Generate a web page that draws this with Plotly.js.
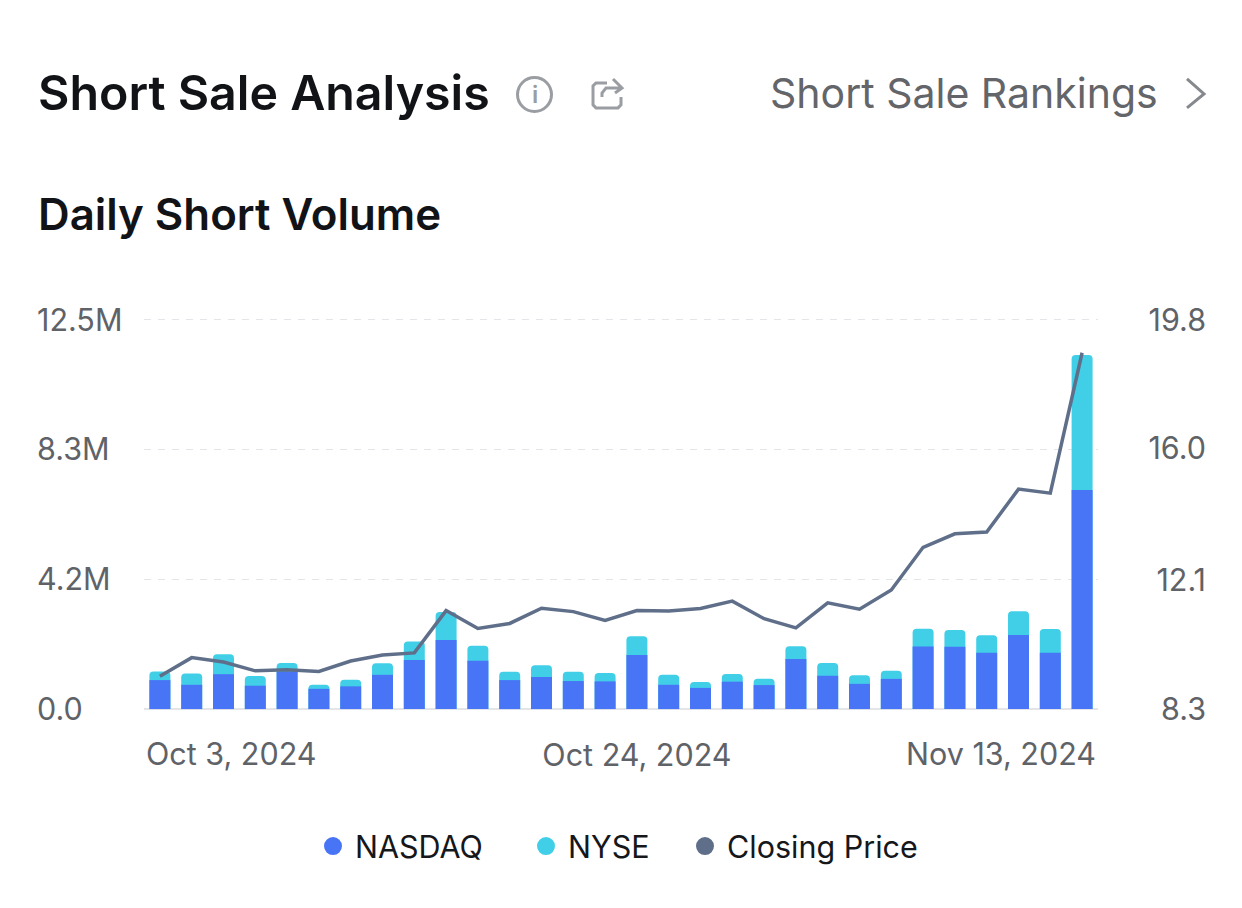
<!DOCTYPE html>
<html>
<head>
<meta charset="utf-8">
<script src="https://cdn.plot.ly/plotly-3.0.1.min.js"></script>
<style>html,body{margin:0;padding:0;background:#fff}#chart{width:1242px;height:908px}</style>
</head>
<body>
<div id="chart"></div>
<script>
const dates = ["Oct 3, 2024","Oct 4, 2024","Oct 7, 2024","Oct 8, 2024","Oct 9, 2024","Oct 10, 2024","Oct 11, 2024","Oct 14, 2024","Oct 15, 2024","Oct 16, 2024","Oct 17, 2024","Oct 18, 2024","Oct 21, 2024","Oct 22, 2024","Oct 23, 2024","Oct 24, 2024","Oct 25, 2024","Oct 28, 2024","Oct 29, 2024","Oct 30, 2024","Oct 31, 2024","Nov 1, 2024","Nov 4, 2024","Nov 5, 2024","Nov 6, 2024","Nov 7, 2024","Nov 8, 2024","Nov 11, 2024","Nov 12, 2024","Nov 13, 2024"];
const nasdaq = [0.93,0.78,1.12,0.75,1.21,0.65,0.73,1.10,1.58,2.22,1.55,0.93,1.03,0.90,0.89,1.74,0.78,0.68,0.88,0.77,1.61,1.07,0.81,0.97,2.01,2.00,1.81,2.38,1.81,7.04];
const nyse = [0.28,0.36,0.64,0.31,0.27,0.13,0.21,0.37,0.59,0.90,0.48,0.27,0.38,0.30,0.27,0.60,0.32,0.19,0.25,0.20,0.41,0.41,0.28,0.26,0.57,0.54,0.56,0.76,0.76,4.33];
const closingPrice = [9.27,9.82,9.69,9.43,9.46,9.41,9.72,9.90,9.96,11.21,10.68,10.83,11.28,11.18,10.92,11.21,11.20,11.27,11.49,10.97,10.70,11.44,11.25,11.82,13.08,13.48,13.53,14.80,14.68,18.83];
const volumeTicks = [0,4.17,8.33,12.5];
const volumeLabels = ["0.0","4.2M","8.3M","12.5M"];
const priceTicks = [8.3,12.1,16.0,19.8];
const priceLabels = ["8.3","12.1","16.0","19.8"];
const xTicks = ["Oct 24, 2024"];

const FONT = 'Inter, "Noto Sans", sans-serif';
const BLUE = '#4874f6', CYAN = '#41cfe8', SLATE = '#5f6f8a';
const GRID = '#e3e5e8', TICKTXT = '#5f6368';
// Plot box padded 25px above and below so the end tick labels stay visible.
const L = 144, R = 1098, T = 294.5, B = 734.5;
const px = x => (x - L) / (R - L);
const py = y => (B - y) / (B - T);

const stackedTop = nasdaq.map((v, i) => v + nyse[i]);
const dummy = (name, color, legend) => ({
  type: 'scatter', mode: 'markers', name, x: [dates[0]], y: [null], legend,
  marker: {color, size: 16, symbol: 'circle', line:{color, width:2}}, showlegend: true, hoverinfo: 'skip'
});

const traces = [
  {type:'bar', name:'NYSE', x:dates, y:stackedTop, marker:{color:CYAN, cornerradius:4}, width:0.66, showlegend:false, customdata:nyse, hovertemplate:'%{x}<br>NYSE %{customdata}M<extra></extra>'},
  {type:'bar', name:'NASDAQ', x:dates, y:nasdaq, marker:{color:BLUE, cornerradius:4}, width:0.66, showlegend:false},
  {type:'scatter', mode:'lines', name:'Closing Price', x:dates, y:closingPrice, yaxis:'y2', line:{color:SLATE, width:3.5, shape:'linear'}, showlegend:false},
  dummy('NASDAQ', BLUE, 'legend'), dummy('NYSE', CYAN, 'legend2'), dummy('Closing Price', SLATE, 'legend3')
];

const note = (text, x, y, size, color, weight, anchor) => ({
  text, xref:'paper', yref:'paper', x:px(x), y:py(y), xanchor:anchor||'left', yanchor:'middle',
  showarrow:false, borderpad:0, font:{family:FONT, size, color, weight:weight||400}
});
const legendAt = x => ({orientation:'h', x:px(x), xanchor:'left', y:py(847), yanchor:'middle', font:{family:FONT, size:30.5, color:'#15171a'}, itemwidth:34, itemclick:false, bgcolor:'rgba(0,0,0,0)'});

const iconLine = {color:'#9a9ea3', width:3};
const pathOf = pts => pts.map(c => c[0] + px(c[1]) + ',' + py(c[2])).join(' ');
const pshape = (pts, line) => ({type:'path', xref:'paper', yref:'paper', path:pathOf(pts), line, fillcolor:'rgba(0,0,0,0)'});
const tickFont = {family:FONT, size:30.5, color:TICKTXT};

const layout = {
  width:1242, height:908, paper_bgcolor:'#fff', plot_bgcolor:'#fff',
  margin:{l:L, r:1242-R, t:T, b:908-B, pad:0},
  barmode:'overlay', font:{family:FONT, color:TICKTXT},
  xaxis:{type:'category', range:[-0.5,29.5], tickmode:'array', tickvals:xTicks, ticktext:xTicks, ticks:'', showgrid:false, zeroline:false, showline:false, tickfont:tickFont, ticklabelstandoff:0, automargin:false},
  yaxis:{range:[-0.801,13.301], tickmode:'array', tickvals:volumeTicks, ticktext:volumeLabels, showgrid:true, gridcolor:GRID, griddash:'7px,7px', gridwidth:1.3, zeroline:true, zerolinecolor:GRID, zerolinewidth:1.5, ticks:'', tickfont:tickFont, ticklabelposition:'inside', ticklabelstandoff:-110, automargin:false},
  yaxis2:{overlaying:'y', side:'right', range:[7.563,20.537], tickmode:'array', tickvals:priceTicks, ticktext:priceLabels, showgrid:false, zeroline:false, ticks:'', tickfont:tickFont, ticklabelposition:'inside', ticklabelstandoff:-111, automargin:false},
  legend:legendAt(311), legend2:legendAt(524), legend3:legendAt(683),
  annotations:[
    note('Short Sale Analysis', 37, 92, 48.3, '#111316', 600),
    note('Short Sale Rankings', 769, 92, 41, '#636569', 400),
    note('Daily Short Volume', 37, 214, 43.8, '#111316', 600),
    note('Oct 3, 2024', 145, 754, 30.5, TICKTXT, 400, 'left'),
    note('Nov 13, 2024', 1097, 754, 30.5, TICKTXT, 400, 'right'),
    note('i', 534.5, 94, 24, '#9a9ea3', 600, 'center')
  ],
  shapes:[
    {type:'circle', xref:'paper', yref:'paper', x0:px(517.5), x1:px(551.5), y0:py(76.5), y1:py(110.5), line:iconLine},
    pshape([['M',607,82],['L',596,82],['L',593,85],['L',593,104],['L',596,107],['L',618,107],['L',621,104],['L',621,96]], iconLine),
    pshape([['M',602,96],['L',602,92],['L',606,87],['L',621,87],['M',613,78],['L',622,87],['L',615,92]], iconLine),
    pshape([['M',1187,78],['L',1204,93],['L',1187,107]], {color:'#85888c', width:3})
  ]
};
Plotly.newPlot('chart', traces, layout, {displayModeBar:false, responsive:false});
</script>
</body>
</html>
